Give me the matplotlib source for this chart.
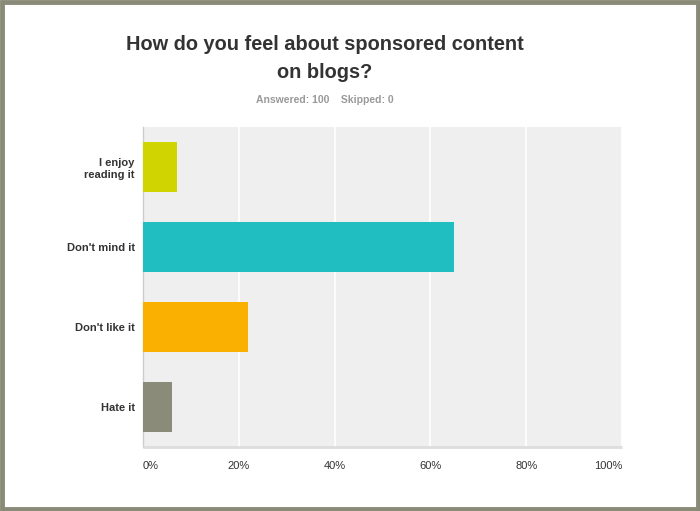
import matplotlib.pyplot as plt
from matplotlib.patches import Rectangle
from matplotlib.ticker import FuncFormatter

plt.rcParams['font.family'] = ['Liberation Sans', 'DejaVu Sans']

answers = ["I enjoy\nreading it", "Don't mind it", "Don't like it", "Hate it"]
percents = [7, 65, 22, 6]
colors = ['#d0d400', '#21bec1', '#f9b000', '#8b8b7a']
xticks = [0, 20, 40, 60, 80, 100]

fig = plt.figure(figsize=(7, 5.11), dpi=100)
fig.patch.set_facecolor('white')

# frame round the picture
fig.patches.append(Rectangle((0.003, 0.004), 0.994, 0.992, transform=fig.transFigure,
                             fill=False, edgecolor='#8a8a78', linewidth=3.5))

ax = fig.add_axes([0.2043, 0.1252, 0.6843, 0.6262])
ax.set_facecolor('#efefef')

ypos = list(range(len(answers)))
ax.barh(ypos, percents, height=0.625, color=colors, zorder=3)

ax.set_xlim(0, 100)
ax.set_ylim(len(answers) - 0.5, -0.5)
ax.set_xticks(xticks)
ax.xaxis.set_major_formatter(FuncFormatter(lambda v, p: '%d%%' % v))
ax.set_yticks(ypos)
ax.set_yticklabels(answers, fontweight='bold', fontsize=8, color='#333333',
                   linespacing=1.25)
ax.tick_params(axis='y', length=0, pad=6)
ax.tick_params(axis='x', length=0, pad=10, labelsize=8, labelcolor='#333333')

ax.grid(axis='x', color='white', linewidth=1.2, zorder=1)
ax.grid(axis='y', visible=False)

for side in ['top', 'right']:
    ax.spines[side].set_visible(False)
ax.spines['left'].set_color('#cccccc')
ax.spines['left'].set_linewidth(1)
ax.spines['bottom'].set_color('#dddddd')
ax.spines['bottom'].set_linewidth(2)
ax.spines['bottom'].set_capstyle('butt')

labels = ax.get_xticklabels()
labels[0].set_ha('left')
labels[-1].set_ha('right')

fig.text(0.464, 0.886, 'How do you feel about sponsored content\non blogs?',
         ha='center', va='center', fontsize=14.4, fontweight='bold',
         color='#333333', linespacing=1.6)
fig.text(0.464, 0.804, 'Answered: 100    Skipped: 0', ha='center', va='center',
         fontsize=7.5, fontweight='bold', color='#999999')

fig.savefig('out.png', dpi=100)
